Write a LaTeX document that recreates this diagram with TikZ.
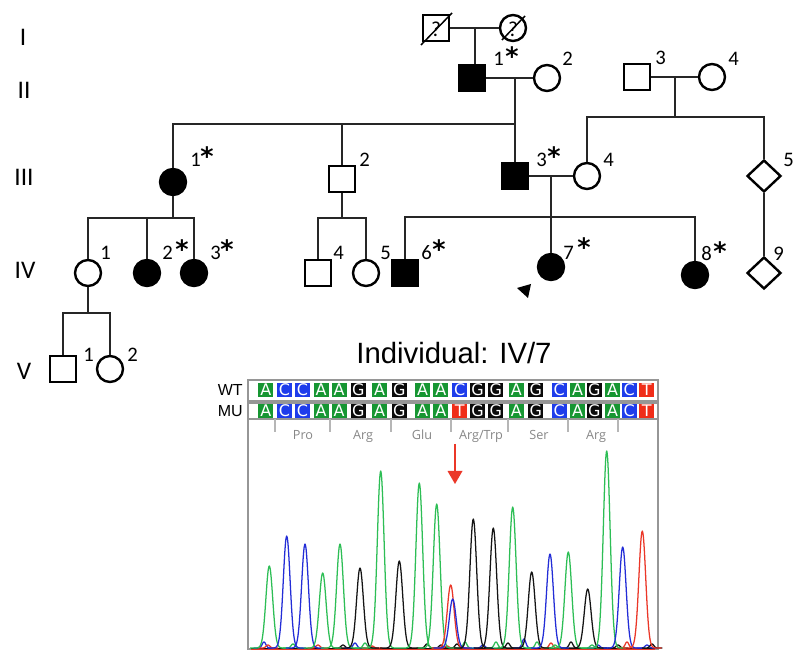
\documentclass[tikz,border=0pt]{standalone}
\usepackage{fontspec}
\usetikzlibrary{shapes.geometric}
\newfontfamily\calfont{Carlito}
\newfontfamily\arfont{Liberation Sans}
\newfontfamily\osfont{Open Sans}
\newfontfamily\dvfont{DejaVu Sans}
\definecolor{bA}{RGB}{22,150,50}
\definecolor{bC}{RGB}{30,60,235}
\definecolor{bG}{RGB}{10,10,10}
\definecolor{bT}{RGB}{240,45,25}
\definecolor{cG}{RGB}{45,190,85}
\definecolor{cB}{RGB}{35,45,215}
\definecolor{cK}{RGB}{20,20,20}
\definecolor{cR}{RGB}{235,55,40}
\definecolor{framegray}{RGB}{150,150,150}
\definecolor{codongray}{RGB}{135,135,135}
\newcommand\chrompeak[4]{%
  \pgfmathsetmacro\pka{#2-4*#4}%
  \pgfmathsetmacro\pkb{#2+4*#4}%
  \pgfmathsetmacro\pkh{648-#3}%
  \draw[color=#1,pkline] plot[domain=\pka:\pkb,samples=41,smooth]
    (\x,{648-\pkh*exp(-(\x-#2)*(\x-#2)/(#4*#4))});}
\begin{document}
\begin{tikzpicture}[x=0.75pt,y=-0.75pt,
  sym/.style={draw=black,line width=1.8pt,inner sep=0pt,minimum size=19.5pt},
  male/.style={sym,rectangle},
  fem/.style={sym,circle},
  unk/.style={sym,diamond,minimum width=25.5pt,minimum height=24pt},
  aff/.style={fill=black},
  conn/.style={line width=0.9pt,draw=black!85},
  lab/.style={font=\calfont\fontsize{15.5pt}{15.5pt}\selectfont,inner sep=0pt,anchor=base west},
  ast/.style={font=\dvfont\bfseries\fontsize{19pt}{19pt}\selectfont,inner sep=0pt,anchor=north},
  gen/.style={font=\calfont\fontsize{19pt}{19pt}\selectfont,inner sep=0pt},
  basebox/.style={minimum width=11.25pt,minimum height=10.5pt,inner sep=0pt,text=white,
    font=\dvfont\fontsize{12pt}{12pt}\selectfont},
  codon/.style={font=\osfont\fontsize{9.5pt}{9.5pt}\selectfont,text=codongray,inner sep=0pt,anchor=base},
  pkline/.style={line width=0.95pt,line join=round}]
\useasboundingbox (0,0) rectangle (800,666);
\fill[white] (0,0) rectangle (800,666);

% generation labels
\node[gen] (gI) at (23,37) {I};
\node[gen] (gII) at (24,90) {II};
\node[gen] (gIII) at (24,177) {III};
\node[gen] (gIV) at (25,270) {IV};
\node[gen] (gV) at (24,371) {V};

% generation I
\node[male] (I1) at (436,28) {};
\node[fem] (I2) at (513,28) {};
\node[font=\calfont\fontsize{16pt}{16pt}\selectfont,inner sep=0pt] (q1) at (436,29) {?};
\node[font=\calfont\fontsize{16pt}{16pt}\selectfont,inner sep=0pt] (q2) at (513,29) {?};
\coordinate (sl1a) at (421,45); \coordinate (sl1b) at (452,13);
\coordinate (sl2a) at (502,40); \coordinate (sl2b) at (525,16);
\draw[line width=1.1pt] (sl1a) -- (sl1b);
\draw[line width=1.1pt] (sl2a) -- (sl2b);

% generation II
\node[male,aff] (II1) at (472,78) {};
\node[fem] (II2) at (547,78) {};
\node[male] (II3) at (637,77) {};
\node[fem] (II4) at (712,77) {};

% generation III
\node[fem,aff] (III1) at (173,182) {};
\node[male] (III2) at (342,179) {};
\node[male,aff] (III3) at (515,176) {};
\node[fem] (III4) at (587,176) {};
\node[unk] (III5) at (764,176) {};

% generation IV
\node[fem] (IV1) at (88,273) {};
\node[fem,aff] (IV2) at (147,273) {};
\node[fem,aff] (IV3) at (194,273) {};
\node[male] (IV4) at (318,273) {};
\node[fem] (IV5) at (366,273) {};
\node[male,aff] (IV6) at (405,273) {};
\node[fem,aff] (IV7) at (551,267) {};
\node[fem,aff] (IV8) at (695,275) {};
\node[unk] (IV9) at (764,273) {};

% generation V
\node[male] (V1) at (63,369) {};
\node[fem] (V2) at (110,369) {};

% proband arrow
\fill[black] (517,288) -- (531,284) -- (528,298) -- cycle;

% connectors
\draw[conn] (I1) -- (I2);
\coordinate (m1) at (475,28);
\draw[conn] (m1) -- (m1 |- II1.north);
\draw[conn] (II1) -- (II2);
\coordinate (m2) at (515,78);
\coordinate (s1) at (515,124);
\draw[conn] (m2) -- (III3.north);
\draw[conn] (III1.north) |- (s1);
\draw[conn] (III2.north) -- (III2.north |- s1);
\draw[conn] (II3) -- (II4);
\coordinate (m3) at (675,77);
\coordinate (s2) at (675,117);
\draw[conn] (m3) -- (s2);
\draw[conn] (III4.north) |- (s2) -| (III5.north);
\draw[conn] (III3) -- (III4);
\coordinate (m4) at (551,176);
\coordinate (s3) at (551,217);
\draw[conn] (m4) -- (IV7.north);
\draw[conn] (IV6.north) |- (s3) -| (IV8.north);
\coordinate (s4) at (173,218);
\draw[conn] (III1.south) -- (s4);
\draw[conn] (IV1.north) |- (s4) -| (IV3.north);
\draw[conn] (IV2.north) -- (IV2.north |- s4);
\coordinate (s5) at (342,218);
\draw[conn] (III2.south) -- (s5);
\draw[conn] (IV4.north) |- (s5) -| (IV5.north);
\draw[conn] (III5.south) -- (IV9.north);
\coordinate (s6) at (88,313);
\draw[conn] (IV1.south) -- (s6);
\draw[conn] (V1.north) |- (s6) -| (V2.north);

% numbers
\node[lab] (nII1) at (493,66) {1};
\node[ast] (aII1) at (512,46) {*};
\node[lab] (nII2) at (562,66) {2};
\node[lab] (nII3) at (655,65) {3};
\node[lab] (nII4) at (728,66) {4};
\node[lab] (nIII1) at (190,167) {1};
\node[ast] (aIII1) at (207,146) {*};
\node[lab] (nIII2) at (359,167) {2};
\node[lab] (nIII3) at (536,167) {3};
\node[ast] (aIII3) at (554,146) {*};
\node[lab] (nIII4) at (603,167) {4};
\node[lab] (nIII5) at (783,167) {5};
\node[lab] (nIV1) at (100,260) {1};
\node[lab] (nIV2) at (162,260) {2};
\node[ast] (aIV2) at (182,239) {*};
\node[lab] (nIV3) at (210,260) {3};
\node[ast] (aIV3) at (227,239) {*};
\node[lab] (nIV4) at (333,260) {4};
\node[lab] (nIV5) at (380,260) {5};
\node[lab] (nIV6) at (421,260) {6};
\node[ast] (aIV6) at (439,239) {*};
\node[lab] (nIV7) at (563,260) {7};
\node[ast] (aIV7) at (584,237) {*};
\node[lab] (nIV8) at (701,261) {8};
\node[ast] (aIV8) at (720,241) {*};
\node[lab] (nIV9) at (773,261) {9};
\node[lab] (nV1) at (83,362) {1};
\node[lab] (nV2) at (127,362) {2};

% title
\node[font=\arfont\fontsize{22pt}{22pt}\selectfont,anchor=base,inner sep=0pt] (title) at (454,364) {Individual: IV/7};

% sequence panel
\draw[framegray,line width=1.5pt] (248,380) rectangle (658,649);
\draw[framegray,line width=1.3pt] (248,401) -- (658,401);
\draw[framegray,line width=1.3pt] (248,403) -- (658,403);
\draw[framegray,line width=1.3pt] (248,419) -- (658,419);
\node[font=\arfont\fontsize{12pt}{12pt}\selectfont,anchor=east,inner sep=0pt] (wt) at (243,390) {WT};
\node[font=\arfont\fontsize{12pt}{12pt}\selectfont,anchor=east,inner sep=0pt] (mu) at (243,411) {MU};
\foreach \xx/\l/\c [count=\i] in {265.8/A/bA,284.5/C/bC,302.5/C/bC,321.2/A/bA,339.2/A/bA,358.3/G/bG,379.7/A/bA,399.2/G/bG,422.5/A/bA,440.8/A/bA,459.7/C/bC,477.5/G/bG,495.8/G/bG,516.3/A/bA,535.8/G/bG,559.2/C/bC,577.5/A/bA,594.2/G/bG,612.5/A/bA,629.2/C/bC,646.7/T/bT}
  {\node[basebox,fill=\c] (w\i) at (\xx,390) {\l};}
\foreach \xx/\l/\c [count=\i] in {265.8/A/bA,284.5/C/bC,302.5/C/bC,321.2/A/bA,339.2/A/bA,358.3/G/bG,379.7/A/bA,399.2/G/bG,422.5/A/bA,440.8/A/bA,459.7/T/bT,477.5/G/bG,495.8/G/bG,516.3/A/bA,535.8/G/bG,559.2/C/bC,577.5/A/bA,594.2/G/bG,612.5/A/bA,629.2/C/bC,646.7/T/bT}
  {\node[basebox,fill=\c] (u\i) at (\xx,411) {\l};}
\foreach \tx in {275,330,391,451,508,568,618}
  {\draw[framegray!70,line width=0.8pt] (\tx,419) -- (\tx,432);}
\node[codon] (c1) at (303,440) {Pro};
\node[codon] (c2) at (363,440) {Arg};
\node[codon] (c3) at (422,440) {Glu};
\node[codon] (c4) at (481,440) {Arg/Trp};
\node[codon] (c5) at (539,440) {Ser};
\node[codon] (c6) at (596,440) {Arg};

% red arrow
\draw[cR,line width=2.2pt] (455,444) -- (455,473);
\fill[cR] (447.5,471) -- (462.5,471) -- (455,484) -- cycle;

% chromatogram baseline
\draw[cK,line width=0.6pt] (251,648) -- (655,648);
\draw[cR,line width=0.6pt] (251,649) -- (655,649);
% noise
\foreach \c/\p/\h in {cB/264/6,cR/268/3,cG/293/4,cR/318/3,cK/343/3,cB/355/5,cG/365/5,cR/372/2,cK/427/4,cK/441/3,cR/447/2,cK/457/4,cG/465/6,cB/483/3,cG/496/6,cK/508/5,cB/524/9,cG/537/6,cR/551/5,cG/555/3,cK/571/6,cG/592/3,cB/598/3,cK/618/3,cR/627/6,cB/647/3,cK/652/4}
  {\pgfmathsetmacro\tp{648-\h}\chrompeak{\c}{\p}{\tp}{2.6}}
% peaks
\foreach \c/\p/\t in {cG/269.3/566,cB/286.7/536,cB/305/544,cG/322.7/573,cG/340/544,cK/360/568,cG/380.7/471,cK/399.3/561,cG/419.3/483,cG/436.7/504,cR/450.7/585,cB/452.7/599,cK/473.3/519,cK/493.3/528,cG/512.7/507,cK/531.7/572,cB/550/554,cG/568.3/552,cK/587.7/589,cG/606.7/451,cB/622.7/547,cR/642.3/531}
  {\chrompeak{\c}{\p}{\t}{4.8}}
\end{tikzpicture}
\end{document}
